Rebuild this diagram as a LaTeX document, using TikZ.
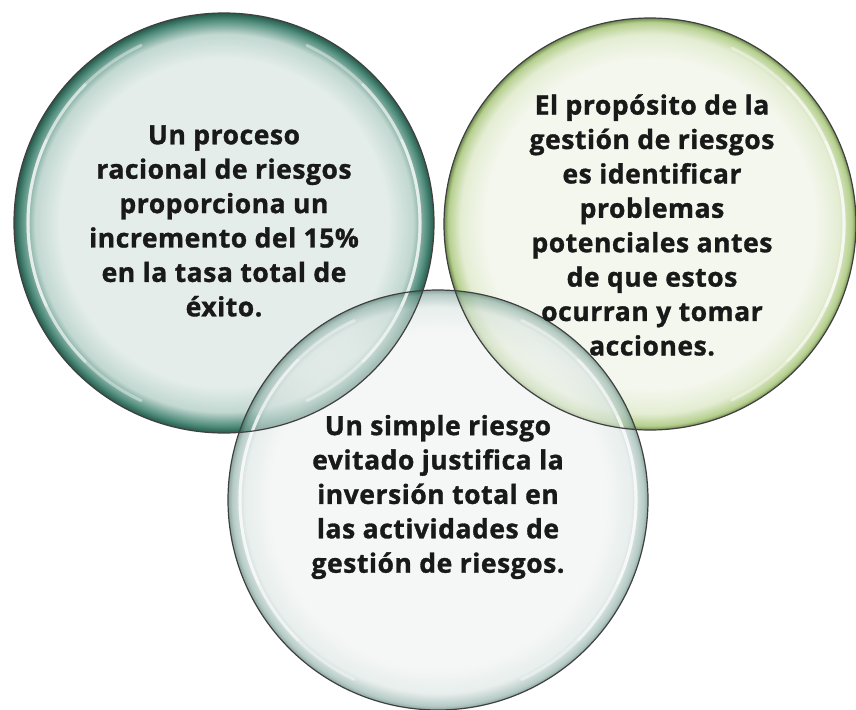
\documentclass[tikz,border=0pt]{standalone}
\usepackage{fontspec}
\setmainfont{Open Sans}[BoldFont={Open Sans Bold},BoldFeatures={FakeBold=1.2,LetterSpace=2}]
\usetikzlibrary{positioning}
\definecolor{izqin}{HTML}{E4EDEA}
\definecolor{izqmid}{HTML}{C2D8D1}
\definecolor{izqrim}{HTML}{4F8C7B}
\definecolor{izqdark}{HTML}{25594A}
\definecolor{derin}{HTML}{F4F7EE}
\definecolor{dermid}{HTML}{E4EDD3}
\definecolor{derrim}{HTML}{B5CF8E}
\definecolor{derdark}{HTML}{6E8A4E}
\definecolor{abjin}{HTML}{EEF2F0}
\definecolor{abjmid}{HTML}{D9E4E1}
\definecolor{abjrim}{HTML}{86A9A0}
\definecolor{abjdark}{HTML}{3F6B60}
\pgfdeclareradialshading{izqsh}{\pgfpoint{0bp}{0bp}}{color(0bp)=(izqin); color(19.5bp)=(izqin); color(22.5bp)=(izqmid); color(24.2bp)=(izqrim); color(25bp)=(izqdark); color(50bp)=(izqdark)}
\pgfdeclareradialshading{dersh}{\pgfpoint{0bp}{0bp}}{color(0bp)=(derin); color(20bp)=(derin); color(23bp)=(dermid); color(24.5bp)=(derrim); color(25bp)=(derdark); color(50bp)=(derdark)}
\pgfdeclareradialshading{abjsh}{\pgfpoint{0bp}{0bp}}{color(0bp)=(abjin); color(20bp)=(abjin); color(23bp)=(abjmid); color(24.5bp)=(abjrim); color(25bp)=(abjdark); color(50bp)=(abjdark)}

\begin{document}
\begin{tikzpicture}[x=1pt,y=-1pt,
    bubble/.style={circle,minimum size=420pt,inner sep=0pt},
    rim/.style={draw=black!75,line width=1.2pt},
    hl/.style={white,line width=3pt,opacity=.4,line cap=round},
    txt/.style={align=center,text=black!90,font={\fontsize{26.5pt}{34.4pt}\selectfont\bfseries}}
    ]
    \useasboundingbox[fill=white] (0,0) rectangle (856,709);
    \node[bubble,shading=izqsh] (izq) at (224,223) {};
    \node[bubble,shading=dersh,minimum size=412pt] (der) at (650,224) {};
    \node[bubble,shading=abjsh,fill opacity=.6] (abj) at (438,500) {};
    \foreach \a in {25,45,65}
    {\draw[hl] ([shift={(180-\a:196)}]izq.center) arc[start angle=180-\a,end angle=180+\a,radius=196];
     \draw[hl] ([shift={(-\a:196)}]izq.center) arc[start angle=-\a,end angle=\a,radius=196];
     \draw[hl] ([shift={(-\a:194)}]der.center) arc[start angle=-\a,end angle=\a,radius=194];
     \draw[hl] ([shift={(180-\a:198)}]abj.center) arc[start angle=180-\a,end angle=180+\a,radius=198];
     \draw[hl] ([shift={(-\a:198)}]abj.center) arc[start angle=-\a,end angle=\a,radius=198];}
    \draw[rim] (izq.center) circle[radius=210];
    \draw[rim] (der.center) circle[radius=206];
    \draw[rim] (abj.center) circle[radius=210];
    \node[txt] (izqtxt) at ([yshift=2]izq.center) {Un proceso\\racional de riesgos\\proporciona un\\incremento del 15\%\\en la tasa total de\\éxito.};
    \node[txt] (dertxt) at ([xshift=2,yshift=-1]der.center) {El propósito de la\\gestión de riesgos\\es identificar\\problemas\\potenciales antes\\de que estos\\ocurran y tomar\\acciones.};
    \node[txt] (abjtxt) at ([yshift=3]abj.center) {Un simple riesgo\\evitado justifica la\\inversión total en\\las actividades de\\gestión de riesgos.};
\end{tikzpicture}
\end{document}
